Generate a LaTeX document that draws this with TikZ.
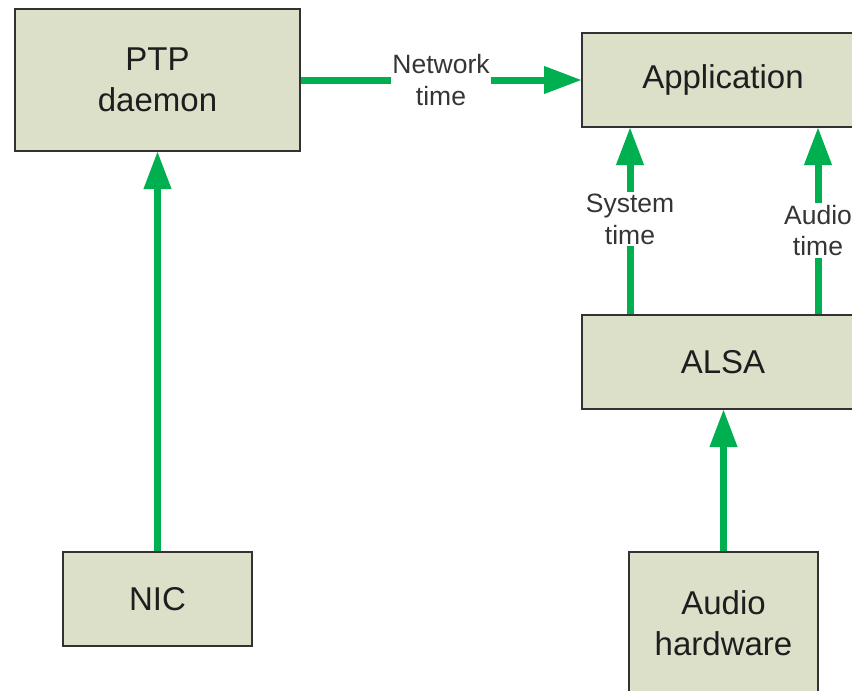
\documentclass[tikz,border=0pt]{standalone}
\usepackage{fontspec}
\setmainfont{Liberation Sans}
\usetikzlibrary{arrows.meta}
\definecolor{boxfill}{RGB}{220,224,201}
\definecolor{boxline}{RGB}{50,50,50}
\definecolor{flow}{RGB}{0,176,80}
\definecolor{ink}{RGB}{30,30,30}
\tikzset{
  block/.style={draw=boxline, line width=2pt, fill=boxfill, rectangle,
    inner sep=0pt, align=center, text=ink,
    font=\fontsize{33}{41}\selectfont},
  flowarrow/.style={draw=flow, line width=7pt, shorten >=-1pt,
    -{Triangle[length=38pt,width=26pt]}},
  flowlabel/.style={fill=white, inner sep=2pt, align=center, text=ink!90,
    font=\fontsize{26.5}{31.5}\selectfont}
}
\begin{document}
\begin{tikzpicture}[x=1pt, y=-1pt]
  \useasboundingbox (0,0) rectangle (852,691);
  \clip (0,0) rectangle (852,691);

  % blocks
  \node[block, minimum width=285pt, minimum height=142pt] (ptp) at (157.5,80) {PTP\\daemon};
  \node[block, minimum width=282pt, minimum height=94pt] (app) at (723,80) {Application};
  \node[block, minimum width=282pt, minimum height=94pt] (alsa) at (723,362) {ALSA};
  \node[block, minimum width=189pt, minimum height=94pt] (nic) at (157.5,599) {NIC};
  \node[block, minimum width=189pt, minimum height=142pt] (hw) at (723.5,623) {Audio\\hardware};

  % columns of the two timing arrows between ALSA and the application
  \coordinate (sysx) at (630,0);
  \coordinate (audx) at (818,0);

  % connectors
  \draw[flowarrow] (nic.north) -- (nic.north |- ptp.south);
  \draw[flowarrow] (ptp.east) -- node[flowlabel, inner xsep=1pt] {Network\\time} (app.west);
  \draw[flowarrow] (alsa.north -| sysx) -- node[flowlabel, pos=0.51] {System\\time} (app.south -| sysx);
  \draw[flowarrow] (alsa.north -| audx) -- node[flowlabel, pos=0.45] {Audio\\time} (app.south -| audx);
  \draw[flowarrow] (hw.north) -- (hw.north |- alsa.south);
\end{tikzpicture}
\end{document}
